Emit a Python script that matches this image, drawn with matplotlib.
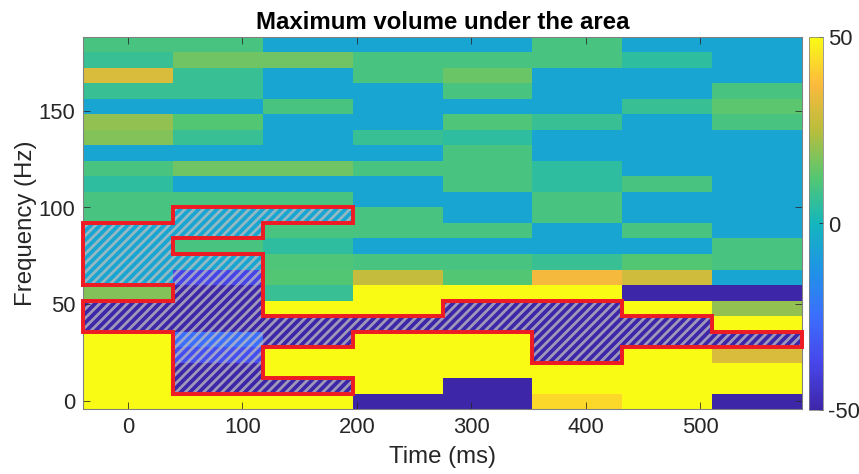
import numpy as np
import matplotlib.pyplot as plt
from matplotlib.colors import LinearSegmentedColormap
from matplotlib.patches import Polygon

plt.rcParams['font.family'] = ['Liberation Sans', 'DejaVu Sans']
plt.rcParams['axes.unicode_minus'] = False
plt.rcParams['hatch.linewidth'] = 1.8

# time bins (ms) and frequency bins (Hz) of the spectrogram
time_centers = [0, 78.5, 157, 235.5, 314, 392.5, 471, 549.5]
freq_centers = [0, 8, 16, 24, 32, 40, 48, 56, 64, 72, 80, 88,
                96, 104, 112, 120, 128, 136, 144, 152, 160, 168, 176, 184]

# power values, one row per frequency bin (low to high), one column per time bin
power = [
    [55, 55, 55, -55, -55, 43, 55, -55],
    [55, -55, -55, 55, -55, 55, 55, 55],
    [55, -55, 55, 55, 55, 55, 55, 55],
    [55, -35, 55, 55, 55, -55, 55, 31],
    [55, -25, -55, 55, 55, -55, -55, -55],
    [-55, -55, -55, -55, -55, -55, -55, 55],
    [-55, -55, 55, 55, -55, -55, 55, 20],
    [18, -55, 7, 55, 55, 55, -55, -55],
    [-6, -38, 12, 27, 12, 36, 29, -6],
    [-6, -6, 11, 10, 10, 7, 12, 10],
    [-6, 10, 5, -6, -6, -6, -6, 10],
    [-6, -6, 10, 10, 10, -6, 10, -6],
    [10, -6, -6, 10, -6, 10, -6, -6],
    [10, 10, 10, -6, -6, 10, -6, -6],
    [5, -6, -6, -6, 10, 5, 10, -6],
    [10, 16, 16, 10, 10, 5, -6, -6],
    [-6, -6, -6, -6, 10, -6, -6, -6],
    [18, 7, -6, 7, 5, -6, -6, -6],
    [20, 12, -6, -6, 11, 7, -6, 10],
    [-6, -6, 10, -6, -6, -6, 7, 13],
    [7, 7, -6, -6, 10, -6, -6, 10],
    [31, 7, -6, 10, 15, -6, -6, -6],
    [7, 16, 16, 10, 10, 10, 5, -6],
    [10, 10, -6, -6, -6, 10, -6, -6],
]

# outline of the selected area: time-bin edge index and frequency edge (Hz)
area_edge_idx = [0, 0, 1, 1, 3, 3, 2, 2, 1, 1, 2, 2, 4, 4, 6, 6, 7, 7, 8,
                 8, 6, 6, 5, 5, 3, 3, 2, 2, 3, 3, 1, 1, 0, 0, 1, 1, 0]
area_freq = [60, 92, 92, 100, 100, 92, 92, 84, 84, 76, 76, 44, 44, 52, 52,
             44, 44, 36, 36, 28, 28, 20, 20, 36, 36, 28, 28, 12, 12, 4, 4,
             36, 36, 52, 52, 60, 60]

x_ticks = [0, 100, 200, 300, 400, 500]
y_ticks = [0, 50, 100, 150]
cbar_ticks = [-50, 0, 50]

# parula-like colormap
parula = LinearSegmentedColormap.from_list('parula', [
    (0.00, '#3e26a8'), (0.125, '#4746eb'), (0.25, '#3c6efc'),
    (0.375, '#1f93e6'), (0.50, '#14b6bd'), (0.625, '#56c771'),
    (0.75, '#b8bd3d'), (0.875, '#fcba3d'), (1.00, '#f9fb15')])

tc = np.array(time_centers)
fc = np.array(freq_centers)
dt = tc[1] - tc[0]
df = fc[1] - fc[0]
time_edges = np.append(tc - dt / 2, tc[-1] + dt / 2)
freq_edges = np.append(fc - df / 2, fc[-1] + df / 2)

W, H, DPI = 859, 474, 110
fig = plt.figure(figsize=(W / DPI, H / DPI), dpi=DPI)
ax = fig.add_axes([83 / W, 65 / H, 719 / W, 372 / H])

mesh = ax.pcolormesh(time_edges, freq_edges, np.array(power), cmap=parula,
                     vmin=-50, vmax=50, shading='flat', antialiased=False)

# hatched fill of the area, then its red outline
ax_t = time_edges[area_edge_idx]
ax_f = np.array(area_freq)
ax.add_patch(Polygon(np.column_stack([ax_t, ax_f]), closed=True, fill=False,
                     hatch='////', edgecolor=(0.75, 0.75, 0.75, 0.75),
                     linewidth=0))
ax.plot(ax_t, ax_f, color='#ed1c24', lw=2.6, solid_joinstyle='miter',
        clip_on=False, zorder=5)

ax.set_xlim(time_edges[0], time_edges[-1])
ax.set_ylim(freq_edges[0], freq_edges[-1])
ax.set_xticks(x_ticks)
ax.set_yticks(y_ticks)
ax.tick_params(direction='in', length=4.6, width=0.5, color='#262626',
               labelsize=14.4, labelcolor='#262626', pad=5,
               top=True, right=True)
for s in ax.spines.values():
    s.set_color('#808080')
    s.set_linewidth(0.7)

ax.set_title('Maximum volume under the area', fontsize=15.7,
             fontweight='bold', pad=5.5)
ax.set_xlabel('Time (ms)', fontsize=15.7, color='#262626')
ax.set_ylabel('Frequency (Hz)', fontsize=15.7, color='#262626')
ax.xaxis.set_label_coords(0.5, -0.10)
ax.yaxis.set_label_coords(-0.064, 0.5)

cax = fig.add_axes([809 / W, 64 / H, 13.7 / W, 373 / H])
cb = fig.colorbar(mesh, cax=cax, ticks=cbar_ticks)
cb.outline.set_linewidth(0.5)
cb.outline.set_edgecolor('#808080')
cax.tick_params(direction='in', length=2.5, width=0.5, color='#262626',
                labelsize=14.4, labelcolor='#262626', pad=3.5)

fig.savefig('out.png', dpi=DPI)
